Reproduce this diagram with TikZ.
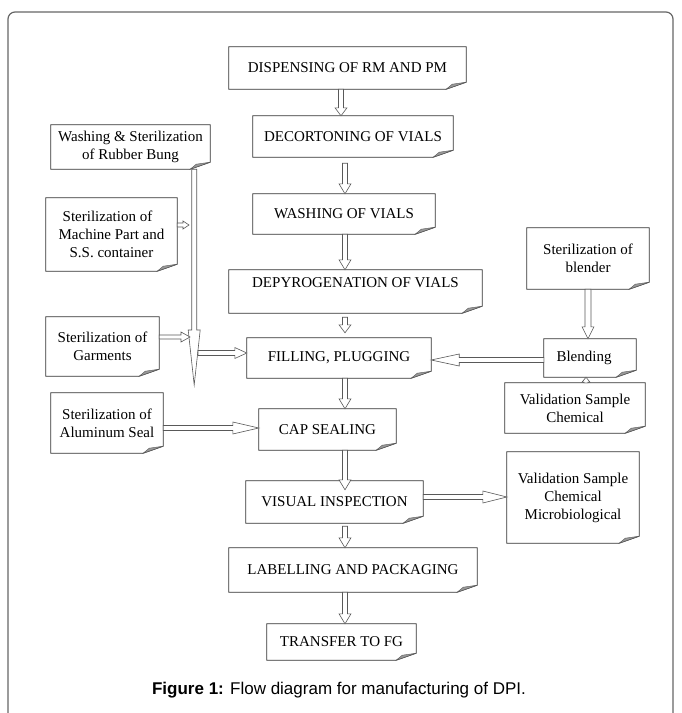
\documentclass[tikz,border=0pt]{standalone}
\usepackage{fontspec}
\setmainfont{Liberation Serif}
\newfontfamily\capfont{Liberation Sans}
\usetikzlibrary{calc}

\tikzset{
  box/.style={inner sep=0pt, align=center, font=\fontsize{15}{18}\selectfont},
  boxline/.style={draw=black!80, line width=0.8pt, line join=miter},
  flap/.style={fill=black!40, draw=black!65, line width=0.4pt},
  blk/.style={draw=black!65, line width=0.6pt, fill=white, line join=miter},
  frame/.style={draw=black!60, line width=1.2pt},
}

% box: [opts]{name}{x1}{y1}{x2}{y2}{text}
\newcommand\mkbox[7][]{%
  \node[box,#1,minimum width={#5pt-#3pt},minimum height={#6pt-#4pt}] (#2) at ({(#3+#5)/2},{(#4+#6)/2}) {#7};
  \draw[boxline] (#2.north west) -- (#2.north east) -- ($(#2.south east)+(0,-7)$) -- ($(#2.south east)+(-20,0)$) -- (#2.south west) -- cycle;
  \path[flap] ($(#2.south east)+(0,-7)$) -- ($(#2.south east)+(-20,0)$) -- ($(#2.south east)+(-14,-5)$) -- cycle;
}
% block arrows: {from}{to}{shaft half}{head half}{head length}
\newcommand\darr[5]{%
  \path[blk] let \p1=(#1), \p2=(#2) in
    (\x1-#3pt,\y1) -- (\x1-#3pt,\y2+#5pt) -- (\x1-#4pt,\y2+#5pt) -- (\x1,\y2) --
    (\x1+#4pt,\y2+#5pt) -- (\x1+#3pt,\y2+#5pt) -- (\x1+#3pt,\y1) -- cycle;}
\newcommand\uarr[5]{%
  \path[blk] let \p1=(#1), \p2=(#2) in
    (\x1-#3pt,\y1) -- (\x1-#3pt,\y2-#5pt) -- (\x1-#4pt,\y2-#5pt) -- (\x1,\y2) --
    (\x1+#4pt,\y2-#5pt) -- (\x1+#3pt,\y2-#5pt) -- (\x1+#3pt,\y1) -- cycle;}
\newcommand\rarr[5]{%
  \path[blk] let \p1=(#1), \p2=(#2) in
    (\x1,\y1-#3pt) -- (\x2-#5pt,\y1-#3pt) -- (\x2-#5pt,\y1-#4pt) -- (\x2,\y1) --
    (\x2-#5pt,\y1+#4pt) -- (\x2-#5pt,\y1+#3pt) -- (\x1,\y1+#3pt) -- cycle;}
\newcommand\larr[5]{%
  \path[blk] let \p1=(#1), \p2=(#2) in
    (\x1,\y1-#3pt) -- (\x2+#5pt,\y1-#3pt) -- (\x2+#5pt,\y1-#4pt) -- (\x2,\y1) --
    (\x2+#5pt,\y1+#4pt) -- (\x2+#5pt,\y1+#3pt) -- (\x1,\y1+#3pt) -- cycle;}

\begin{document}
\begin{tikzpicture}[x=1pt,y=-1pt]
\useasboundingbox (0,0) rectangle (681,713);
\draw[frame, rounded corners=7pt] (8,720) -- (8,12) -- (673,12) -- (673,720);

% main column
\mkbox{disp}{229}{47}{466}{89}{DISPENSING OF RM AND PM}
\mkbox{decor}{253}{116}{453}{157}{DECORTONING OF VIALS}
\mkbox{wash}{253}{194}{435}{234}{WASHING OF VIALS}
\mkbox[text height=10pt,text depth=18pt]{depy}{229}{270}{482}{313}{DEPYROGENATION OF VIALS}
\mkbox{fill}{247}{338}{431}{378}{FILLING, PLUGGING}
\mkbox{cap}{259}{409}{396}{450}{CAP SEALING}
\mkbox{vis}{246}{481}{423}{523}{VISUAL INSPECTION}
\mkbox{lab}{229}{548}{477}{592}{LABELLING AND PACKAGING}
\mkbox{fg}{267}{624}{416}{660}{TRANSFER TO FG}

% left column
\mkbox{rb}{51}{125}{210}{169}{Washing \& Sterilization\\of Rubber Bung}
\mkbox{mp}{46}{198}{177}{271}{Sterilization of\hspace*{8pt}\\Machine Part and\\S.S. container}
\mkbox{gar}{46}{317}{159}{376}{Sterilization of\\Garments}
\mkbox{al}{51}{393}{163}{453}{Sterilization of\\Aluminum Seal}

% right column
\mkbox{bl}{527}{228}{649}{289}{Sterilization of\\blender}
\mkbox{blend}{544}{339}{636}{377}{Blending\hspace*{12pt}}
\mkbox{vc}{505}{383}{645}{433}{Validation Sample\\Chemical}
\mkbox{vm}{507}{452}{639}{543}{Validation Sample\\Chemical\hspace*{24pt}\\Microbiological}

\node[font=\capfont\fontsize{17}{20}\selectfont] (caption) at (339,690)
  {\textbf{Figure 1:} Flow diagram for manufacturing of DPI.};

% main flow arrows
\darr{$(disp.south)+(-6.5,0)$}{decor.north}{2.5}{6}{8}
\darr{$(decor.south)+(-8,6)$}{wash.north}{2.5}{6}{10}
\darr{$(wash.south)+(1,0)$}{depy.north}{2.5}{6}{10}
\darr{$(depy.south)+(-10.5,4)$}{$(fill.north)+(0,-5)$}{2.5}{6}{8}
\darr{$(fill.south)+(6,0)$}{cap.north}{2.5}{6}{10}
\darr{$(cap.south)+(17.5,0)$}{$(vis.north)+(0,9)$}{2.5}{6}{10}
\darr{$(vis.south)+(10.5,3)$}{lab.north}{2.5}{6}{10}
\darr{$(lab.south)+(-8,0)$}{fg.north}{2.5}{6}{10}

% right side
\darr{bl.south}{blend.north}{3}{6}{12}
\uarr{$(vc.north)+(11,0)$}{blend.south}{2}{4}{5}
\larr{$(blend.west)+(0,2)$}{fill.east}{2.5}{6}{28}
\rarr{$(vis.east)+(0,-5)$}{vm.west}{2.5}{6}{24}

% left side
\coordinate (vtop) at ($(rb.south east)+(-16,0)$);
\coordinate (vtip) at (194,385);
\darr{vtop}{vtip}{2.5}{6}{55}
\rarr{$(mp.east)+(0,-9.5)$}{$(vtip)+(-5,0)$}{2}{4}{6}
\rarr{$(gar.east)+(0,-9.5)$}{$(vtip)+(-4,0)$}{2}{5}{9}
\rarr{$(vtip)+(4,-32)$}{fill.west}{2.5}{5.5}{12}
\rarr{$(al.east)+(0,5)$}{cap.west}{2.5}{6}{26}
\end{tikzpicture}
\end{document}
